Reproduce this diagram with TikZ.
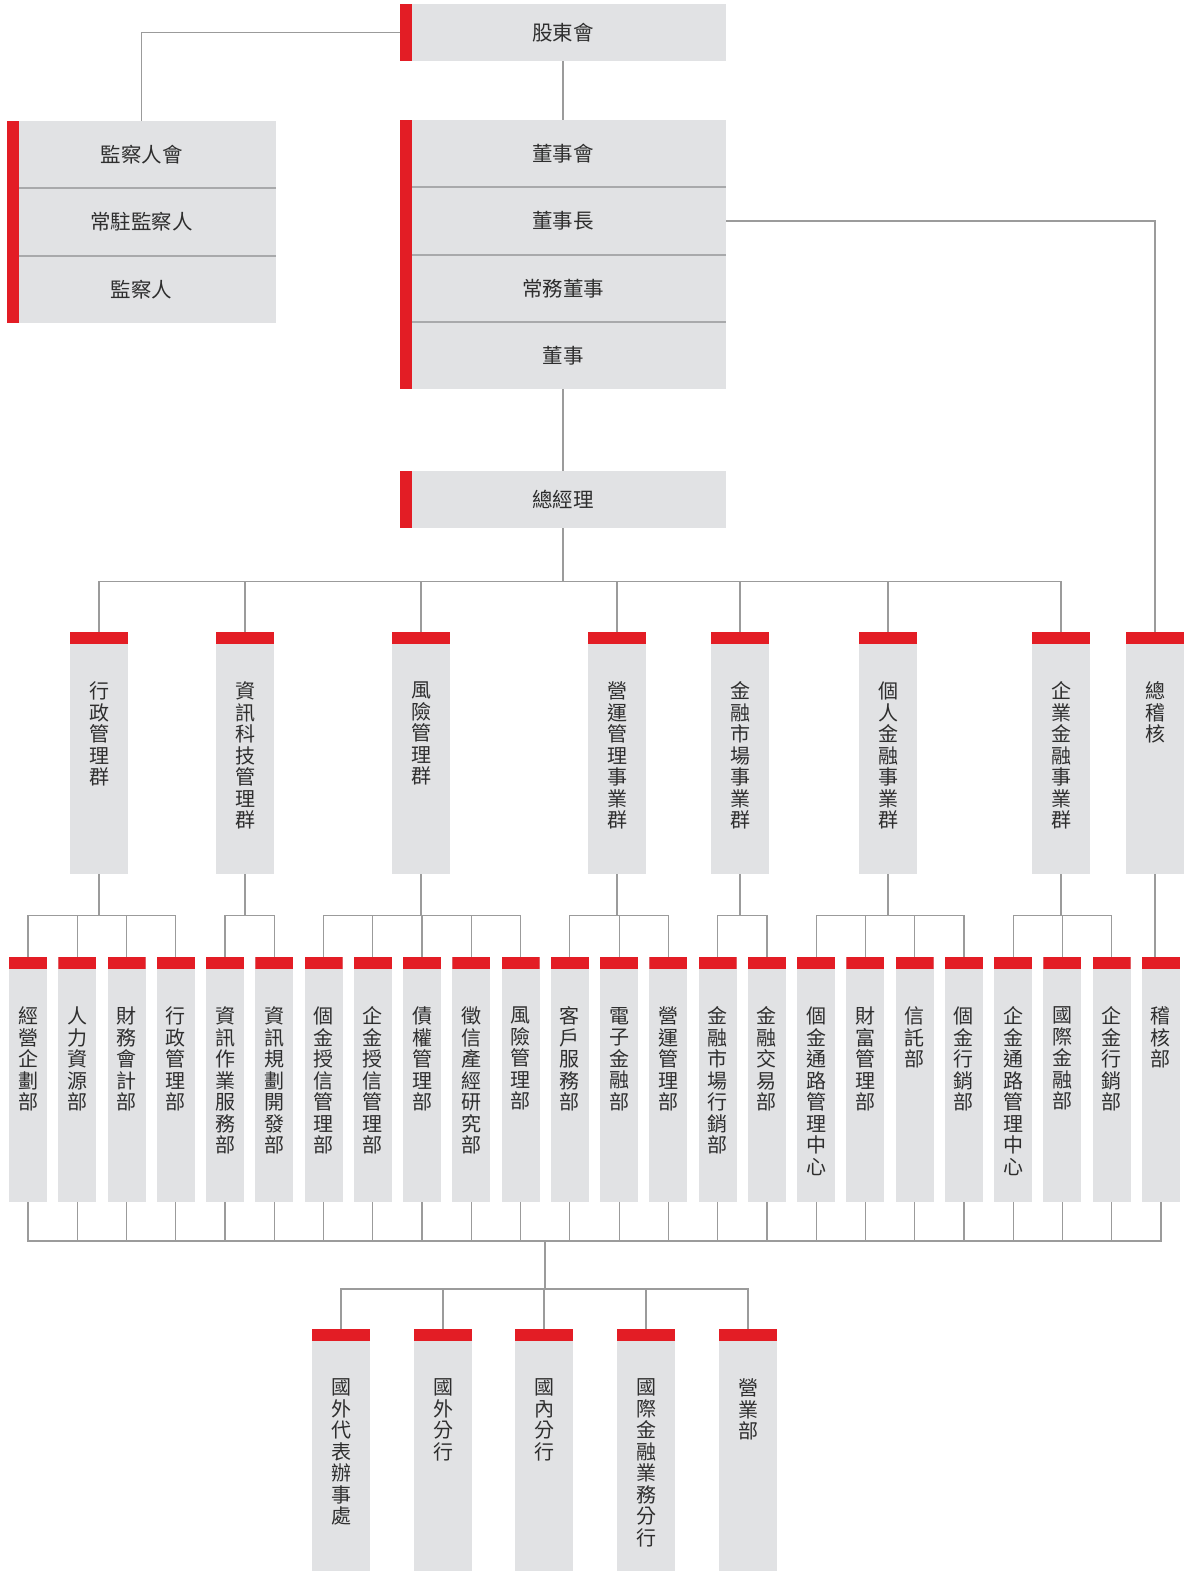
\documentclass[tikz,border=0pt]{standalone}
\usepackage{fontspec}
\setmainfont{Noto Sans CJK TC}
\usetikzlibrary{positioning,calc}
\definecolor{boxgrey}{HTML}{E1E2E4}
\definecolor{barred}{HTML}{E31D25}
\definecolor{linegrey}{HTML}{9B9B9B}
\definecolor{divgrey}{HTML}{A8A9AB}
\definecolor{txtgrey}{HTML}{2E2E2E}
\makeatletter
\newcommand\vtext[1]{\edef\vt@list{#1}\expandafter\@tfor\expandafter\vt@ch\expandafter:\expandafter=\vt@list\do{\vt@ch\\}}
\makeatother

\begin{document}
\begin{tikzpicture}[x=1pt,y=-1pt,
  leftbar/.style={path picture={\fill[barred] (path picture bounding box.north west) rectangle ([xshift=12pt]path picture bounding box.south west);}},
  topbar/.style={path picture={\fill[barred] (path picture bounding box.north west) rectangle ([yshift=-11.5pt]path picture bounding box.north east);}},
  hbox/.style={fill=boxgrey, inner sep=0pt, minimum width=326pt, minimum height=67pt, text=txtgrey, font=\fontsize{20.5}{23}\selectfont},
  vbox/.style={fill=boxgrey, inner sep=0pt, topbar},
  vlab/.style={anchor=north, yshift=-50pt, inner sep=0pt, align=center, text=txtgrey, font=\fontsize{20}{21.5}\selectfont},
  conn/.style={draw=linegrey, line width=1.2pt},
  divider/.style={draw=divgrey, line width=1.8pt}]
\useasboundingbox (0,0) rectangle (1185,1571);

% board and supervisors
\node[hbox, leftbar, minimum height=57pt] (share) at (563,32.5) {股東會};
\node[hbox, minimum width=269pt] (sup1) at (141.5,154.5) {監察人會};
\node[hbox, minimum width=269pt, below=0pt of sup1] (sup2) {常駐監察人};
\node[hbox, minimum width=269pt, below=0pt of sup2] (sup3) {監察人};
\node[hbox] (brd1) at (563,153.5) {董事會};
\node[hbox, below=0pt of brd1] (brd2) {董事長};
\node[hbox, below=0pt of brd2] (brd3) {常務董事};
\node[hbox, below=0pt of brd3] (brd4) {董事};
\foreach \n in {sup1,sup2,brd1,brd2,brd3}
  \draw[divider] ([xshift=12pt]\n.south west) -- (\n.south east);
\fill[barred] (sup1.north west) rectangle ([xshift=12pt]sup3.south west);
\fill[barred] (brd1.north west) rectangle ([xshift=12pt]brd4.south west);
\node[hbox, leftbar, minimum height=57pt] (gm) at (563,499.5) {總經理};

% groups
\foreach \x/\t [count=\k] in {99/行政管理群, 245/資訊科技管理群, 421/風險管理群, 617/營運管理事業群, 740/金融市場事業群, 888/個人金融事業群, 1061/企業金融事業群, 1155/總稽核}
  \node[vbox, minimum width=58pt, minimum height=242pt, label={[vlab]north:\vtext{\t}}] (g\k) at (\x,753) {};

% departments
\foreach \t [count=\k] in {經營企劃部, 人力資源部, 財務會計部, 行政管理部, 資訊作業服務部, 資訊規劃開發部, 個金授信管理部, 企金授信管理部, 債權管理部, 徵信產經研究部, 風險管理部, 客戶服務部, 電子金融部, 營運管理部, 金融市場行銷部, 金融交易部, 個金通路管理中心, 財富管理部, 信託部, 個金行銷部, 企金通路管理中心, 國際金融部, 企金行銷部, 稽核部}
  \node[vbox, minimum width=38pt, minimum height=245pt, label={[vlab]north:\vtext{\t}}] (d\k) at ({28+49.26*(\k-1)},1079.5) {};

% branches
\foreach \x/\t [count=\k] in {341/國外代表辦事處, 443/國外分行, 544/國內分行, 646/國際金融業務分行, 748/營業部}
  \node[vbox, minimum width=58pt, minimum height=242pt, label={[vlab]north:\vtext{\t}}] (b\k) at (\x,1450) {};

% connectors
\draw[conn] (share.west) -| (sup1.north);
\draw[conn] (share) -- (brd1);
\draw[conn] (brd2.east) -| (g8.north);
\draw[conn] (brd4) -- (gm);
\foreach \k in {1,...,7}
  \draw[conn] (gm.south) -- ++(0,53) -| (g\k.north);
\foreach \g/\ds in {1/{1,2,3,4}, 2/{5,6}, 3/{7,8,9,10,11}, 4/{12,13,14}, 5/{15,16}, 6/{17,18,19,20}, 7/{21,22,23}}
  \foreach \d in \ds
    \draw[conn] (g\g.south) -- ++(0,41) -| (d\d.north);
\draw[conn] (g8.south) -- (g8.south |- d24.north);
\coordinate (hub) at (545,1241);
\foreach \k in {1,...,24}
  \draw[conn] (d\k.south) |- (hub);
\foreach \k in {1,...,5}
  \draw[conn] (hub) -- ++(0,48) -| (b\k.north);
\end{tikzpicture}
\end{document}
